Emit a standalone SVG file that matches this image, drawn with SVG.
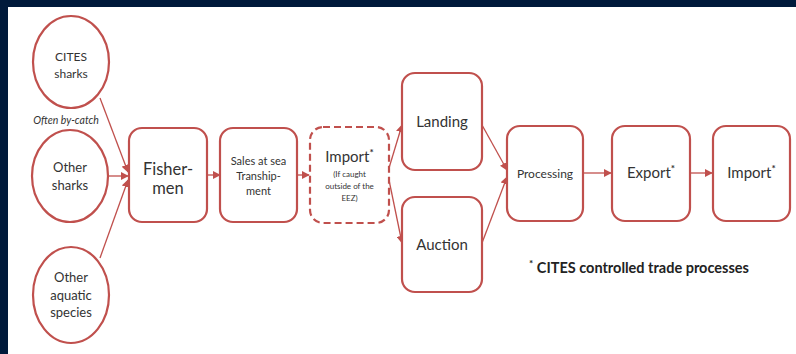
<svg xmlns="http://www.w3.org/2000/svg" width="796" height="354" viewBox="0 0 796 354">
<defs>
<marker id="ah" viewBox="0 0 10 10" refX="9" refY="5" markerWidth="8" markerHeight="8" markerUnits="userSpaceOnUse" orient="auto">
<path d="M0,0 L10,5 L0,10 z" fill="#c0504d"/>
</marker>
<style>
.n{fill:#fff;stroke:#c0504d;stroke-width:2.2}
.d{fill:#fff;stroke:#c0504d;stroke-width:2.2;stroke-dasharray:7 4}
.c{stroke:#c0504d;stroke-width:1.3;fill:none;marker-end:url(#ah)}
text{font-family:Lato,"Open Sans","Liberation Sans",sans-serif;fill:#333;text-anchor:middle}
.s12{font-size:12px}
.s13{font-size:13px}
.s15{font-size:15px}
.s16{font-size:16.5px}
.s11{font-size:11px}
.s8{font-size:8px}
.ast{font-size:10px;font-weight:bold}
</style>
</defs>
<rect x="0" y="0" width="796" height="354" fill="#001a3b"/>
<rect x="8" y="7" width="788" height="347" fill="#ffffff"/>

<g id="connectors">
<line class="c" x1="100" y1="98" x2="128" y2="172"/>
<line class="c" x1="108" y1="176" x2="128" y2="176"/>
<line class="c" x1="100" y1="258" x2="128" y2="180"/>
<line class="c" x1="207" y1="175" x2="220" y2="175"/>
<line class="c" x1="297" y1="175" x2="309" y2="175"/>
<line class="c" x1="389" y1="168" x2="402" y2="125"/>
<line class="c" x1="389" y1="180" x2="402" y2="243"/>
<line class="c" x1="482" y1="125" x2="507" y2="170"/>
<line class="c" x1="482" y1="243" x2="507" y2="177"/>
<line class="c" x1="583" y1="173" x2="611" y2="173"/>
<line class="c" x1="690" y1="173" x2="712" y2="173"/>
</g>

<g id="cites-sharks">
<ellipse class="n" cx="71" cy="62" rx="38" ry="46"/>
<text class="s12" x="71" y="61">CITES</text>
<text class="s12" x="71" y="78">sharks</text>
</g>
<g id="by-catch">
<text x="66" y="124" style="font-size:10.5px;font-style:italic">Often by-catch</text>
</g>
<g id="other-sharks">
<ellipse class="n" cx="70" cy="176" rx="38" ry="46"/>
<text class="s13" x="70" y="172">Other</text>
<text class="s13" x="70" y="190">sharks</text>
</g>
<g id="other-aquatic">
<ellipse class="n" cx="71" cy="295" rx="38" ry="48"/>
<text class="s13" x="71" y="282">Other</text>
<text class="s13" x="71" y="300">aquatic</text>
<text class="s13" x="71" y="317">species</text>
</g>
<g id="fishermen">
<rect class="n" x="129" y="128" width="78" height="94" rx="13"/>
<text class="s16" x="168" y="175">Fisher-</text>
<text class="s16" x="168" y="194">men</text>
</g>
<g id="sales">
<rect class="n" x="220" y="128" width="77" height="94" rx="13"/>
<text class="s11" x="258.5" y="165">Sales at sea</text>
<text class="s11" x="258.5" y="180">Tranship-</text>
<text class="s11" x="258.5" y="195">ment</text>
</g>
<g id="import1">
<rect class="d" x="310" y="127" width="79" height="96" rx="13"/>
<text class="s15" x="349.5" y="162">Import<tspan class="ast" dy="-6">*</tspan></text>
<text class="s8" x="349.5" y="177">(If caught</text>
<text class="s8" x="349.5" y="189">outside of the</text>
<text class="s8" x="349.5" y="201">EEZ)</text>
</g>
<g id="landing">
<rect class="n" x="402" y="73" width="80" height="97" rx="13"/>
<text class="s15" x="442" y="127">Landing</text>
</g>
<g id="auction">
<rect class="n" x="402" y="197" width="80" height="95" rx="13"/>
<text class="s15" x="442" y="250">Auction</text>
</g>
<g id="processing">
<rect class="n" x="507" y="126" width="76" height="95" rx="13"/>
<text class="s12" x="545" y="178">Processing</text>
</g>
<g id="export">
<rect class="n" x="612" y="126" width="78" height="95" rx="13"/>
<text class="s15" x="651" y="178">Export<tspan class="ast" dy="-6">*</tspan></text>
</g>
<g id="import2">
<rect class="n" x="713" y="126" width="77" height="95" rx="13"/>
<text class="s15" x="751.5" y="178">Import<tspan class="ast" dy="-6">*</tspan></text>
</g>
<g id="footnote">
<text x="529" y="273" style="font-size:14.5px;font-weight:bold;text-anchor:start;fill:#222"><tspan dy="-6" style="font-size:10px">*</tspan><tspan dy="6"> CITES controlled trade processes</tspan></text>
</g>
</svg>
